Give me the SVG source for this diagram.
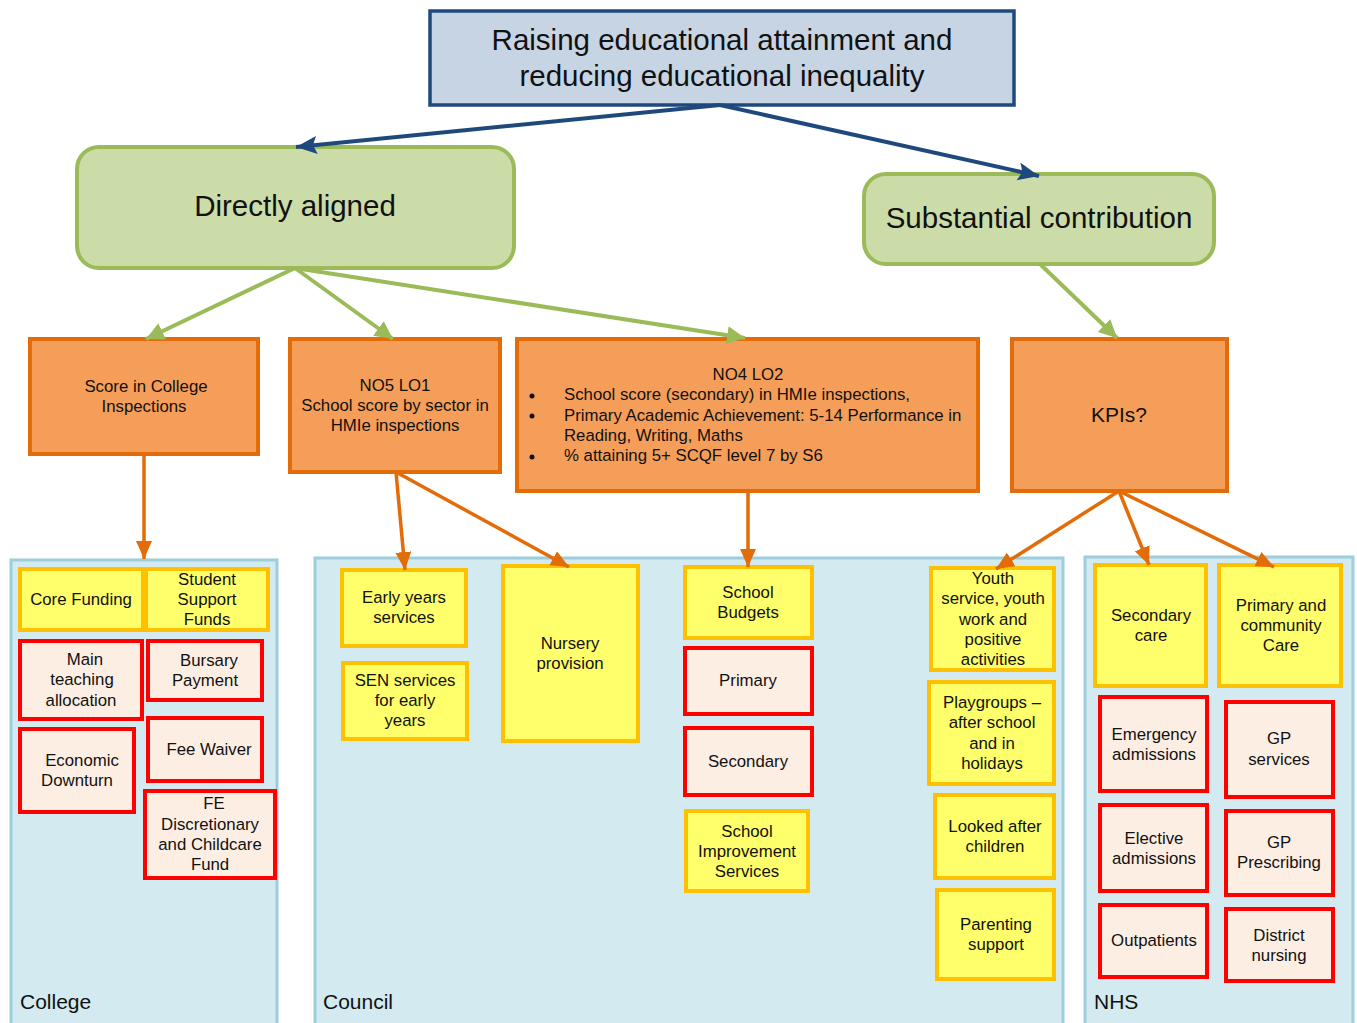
<svg xmlns="http://www.w3.org/2000/svg" width="1357" height="1023" viewBox="0 0 1357 1023">
<style>
text{font-family:"Liberation Sans",Arial,sans-serif;fill:#111;}
.t16{font-size:16.8px;text-anchor:middle;}
.t16l{font-size:16.8px;}
.t20{font-size:21px;}
.t28{font-size:29.5px;text-anchor:middle;}
.cont{fill:#D2EAF0;stroke:#9CCEDD;stroke-width:3;}
.yel{fill:#FFFF6B;stroke:#FFC000;stroke-width:4;}
.red{fill:#FDEEE4;stroke:#FF0000;stroke-width:4;}
.org{fill:#F59E5A;stroke:#E36C09;stroke-width:4;}
.grn{fill:#CCDCA9;stroke:#9BBB59;stroke-width:4;}
.blue{fill:#C6D4E4;stroke:#1F497D;stroke-width:3.5;}
.cb{stroke:#1F497D;stroke-width:4;fill:none;}
.cg{stroke:#9BBB59;stroke-width:4;fill:none;}
.co{stroke:#E36C09;stroke-width:3.5;fill:none;}
</style>
<defs>
<marker id="ab" markerUnits="userSpaceOnUse" markerWidth="24" markerHeight="20" refX="21" refY="9" orient="auto"><path d="M0,0 L21,9 L0,18 L4,9 z" fill="#1F497D"/></marker>
<marker id="ag" markerUnits="userSpaceOnUse" markerWidth="22" markerHeight="20" refX="18" refY="9" orient="auto"><path d="M0,0 L18,9 L0,18 z" fill="#9BBB59"/></marker>
<marker id="ao" markerUnits="userSpaceOnUse" markerWidth="22" markerHeight="18" refX="18" refY="8" orient="auto"><path d="M0,0 L18,8 L0,16 z" fill="#E36C09"/></marker>
</defs>
<rect width="1357" height="1023" fill="#fff"/>

<g id="container-college"><rect class="cont" x="11" y="560" width="266" height="470"/><text class="t20" x="20" y="1009">College</text></g>
<g id="container-council"><rect class="cont" x="315" y="558" width="748" height="472"/><text class="t20" x="323" y="1009">Council</text></g>
<g id="container-nhs"><rect class="cont" x="1085" y="557" width="268" height="473"/><text class="t20" x="1094" y="1009">NHS</text></g>

<g id="goal"><rect class="blue" x="430" y="11" width="584" height="94"/><text class="t28" x="722" y="50">Raising educational attainment and</text><text class="t28" x="722" y="86">reducing educational inequality</text></g>
<g id="directly-aligned"><rect class="grn" x="77" y="147" width="437" height="121" rx="22"/><text class="t28" x="295" y="216">Directly aligned</text></g>
<g id="substantial"><rect class="grn" x="864" y="174" width="350" height="90" rx="22"/><text class="t28" x="1039" y="228">Substantial contribution</text></g>

<g id="score-college"><rect class="org" x="30" y="339" width="228" height="115"/><text class="t16" x="146" y="392">Score in College</text><text class="t16" x="144" y="412">Inspections</text></g>
<g id="no5"><rect class="org" x="290" y="339" width="210" height="133"/><text class="t16" x="395" y="391">NO5 LO1</text><text class="t16" x="395" y="411">School score by sector in</text><text class="t16" x="395" y="431">HMIe inspections</text></g>
<g id="no4"><rect class="org" x="517" y="339" width="461" height="152"/><text class="t16" x="748" y="380">NO4 LO2</text>
<circle cx="532" cy="396" r="2.5" fill="#111"/><circle cx="532" cy="416" r="2.5" fill="#111"/><circle cx="532" cy="457" r="2.5" fill="#111"/>
<text class="t16l" x="564" y="400">School score (secondary) in HMIe inspections,</text><text class="t16l" x="564" y="421">Primary Academic Achievement: 5-14 Performance in</text><text class="t16l" x="564" y="441">Reading, Writing, Maths</text><text class="t16l" x="564" y="461">% attaining 5+ SCQF level 7 by S6</text></g>
<g id="kpis"><rect class="org" x="1012" y="339" width="215" height="152"/><text class="t20" x="1119" y="422" text-anchor="middle">KPIs?</text></g>

<g id="core-funding"><rect class="yel" x="20" y="569" width="123" height="61"/><text class="t16" x="81" y="605">Core Funding</text></g>
<g id="student-support"><rect class="yel" x="146" y="569" width="122" height="61"/><text class="t16" x="207" y="585">Student</text><text class="t16" x="207" y="605">Support</text><text class="t16" x="207" y="625">Funds</text></g>
<g id="main-teaching"><rect class="red" x="20" y="641" width="122" height="78"/><text class="t16" x="85" y="665">Main</text><text class="t16" x="82" y="685">teaching</text><text class="t16" x="81" y="706">allocation</text></g>
<g id="bursary"><rect class="red" x="148" y="641" width="114" height="59"/><text class="t16" x="209" y="666">Bursary</text><text class="t16" x="205" y="686">Payment</text></g>
<g id="economic"><rect class="red" x="20" y="729" width="114" height="83"/><text class="t16" x="82" y="766">Economic</text><text class="t16" x="77" y="786">Downturn</text></g>
<g id="fee-waiver"><rect class="red" x="148" y="718" width="114" height="63"/><text class="t16" x="209" y="755">Fee Waiver</text></g>
<g id="fe-disc"><rect class="red" x="145" y="791" width="130" height="87"/><text class="t16" x="214" y="809">FE</text><text class="t16" x="210" y="830">Discretionary</text><text class="t16" x="210" y="850">and Childcare</text><text class="t16" x="210" y="870">Fund</text></g>

<g id="early-years"><rect class="yel" x="342" y="570" width="124" height="76"/><text class="t16" x="404" y="603">Early years</text><text class="t16" x="404" y="623">services</text></g>
<g id="sen"><rect class="yel" x="343" y="663" width="124" height="76"/><text class="t16" x="405" y="686">SEN services</text><text class="t16" x="405" y="706">for early</text><text class="t16" x="405" y="726">years</text></g>
<g id="nursery"><rect class="yel" x="503" y="566" width="135" height="175"/><text class="t16" x="570" y="649">Nursery</text><text class="t16" x="570" y="669">provision</text></g>
<g id="school-budgets"><rect class="yel" x="685" y="567" width="127" height="71"/><text class="t16" x="748" y="598">School</text><text class="t16" x="748" y="618">Budgets</text></g>
<g id="primary"><rect class="red" x="685" y="648" width="127" height="66"/><text class="t16" x="748" y="686">Primary</text></g>
<g id="secondary"><rect class="red" x="685" y="728" width="127" height="67"/><text class="t16" x="748" y="767">Secondary</text></g>
<g id="school-improvement"><rect class="yel" x="686" y="811" width="122" height="80"/><text class="t16" x="747" y="837">School</text><text class="t16" x="747" y="857">Improvement</text><text class="t16" x="747" y="877">Services</text></g>
<g id="youth"><rect class="yel" x="931" y="568" width="123" height="102"/><text class="t16" x="993" y="584">Youth</text><text class="t16" x="993" y="604">service, youth</text><text class="t16" x="993" y="625">work and</text><text class="t16" x="993" y="645">positive</text><text class="t16" x="993" y="665">activities</text></g>
<g id="playgroups"><rect class="yel" x="929" y="682" width="125" height="102"/><text class="t16" x="992" y="708">Playgroups –</text><text class="t16" x="992" y="728">after school</text><text class="t16" x="992" y="749">and in</text><text class="t16" x="992" y="769">holidays</text></g>
<g id="looked-after"><rect class="yel" x="935" y="795" width="119" height="83"/><text class="t16" x="995" y="832">Looked after</text><text class="t16" x="995" y="852">children</text></g>
<g id="parenting"><rect class="yel" x="937" y="890" width="117" height="89"/><text class="t16" x="996" y="930">Parenting</text><text class="t16" x="996" y="950">support</text></g>

<g id="secondary-care"><rect class="yel" x="1095" y="565" width="111" height="121"/><text class="t16" x="1151" y="621">Secondary</text><text class="t16" x="1151" y="641">care</text></g>
<g id="primary-care"><rect class="yel" x="1219" y="565" width="122" height="121"/><text class="t16" x="1281" y="611">Primary and</text><text class="t16" x="1281" y="631">community</text><text class="t16" x="1281" y="651">Care</text></g>
<g id="emergency"><rect class="red" x="1100" y="697" width="107" height="94"/><text class="t16" x="1154" y="740">Emergency</text><text class="t16" x="1154" y="760">admissions</text></g>
<g id="gp-services"><rect class="red" x="1226" y="702" width="107" height="95"/><text class="t16" x="1279" y="744">GP</text><text class="t16" x="1279" y="765">services</text></g>
<g id="elective"><rect class="red" x="1100" y="805" width="107" height="86"/><text class="t16" x="1154" y="844">Elective</text><text class="t16" x="1154" y="864">admissions</text></g>
<g id="gp-prescribing"><rect class="red" x="1226" y="811" width="107" height="84"/><text class="t16" x="1279" y="848">GP</text><text class="t16" x="1279" y="868">Prescribing</text></g>
<g id="outpatients"><rect class="red" x="1100" y="905" width="107" height="72"/><text class="t16" x="1154" y="946">Outpatients</text></g>
<g id="district"><rect class="red" x="1226" y="909" width="107" height="72"/><text class="t16" x="1279" y="941">District</text><text class="t16" x="1279" y="961">nursing</text></g>

<g id="connectors">
<line class="cb" x1="720" y1="105" x2="296" y2="147" marker-end="url(#ab)"/>
<line class="cb" x1="720" y1="105" x2="1039" y2="176" marker-end="url(#ab)"/>
<line class="cg" x1="295" y1="268" x2="146" y2="339" marker-end="url(#ag)"/>
<line class="cg" x1="295" y1="268" x2="393" y2="339" marker-end="url(#ag)"/>
<line class="cg" x1="295" y1="268" x2="745" y2="338" marker-end="url(#ag)"/>
<line class="cg" x1="1040" y1="264" x2="1117" y2="338" marker-end="url(#ag)"/>
<line class="co" x1="144" y1="454" x2="144" y2="559" marker-end="url(#ao)"/>
<line class="co" x1="396" y1="472" x2="405" y2="570" marker-end="url(#ao)"/>
<line class="co" x1="396" y1="472" x2="569" y2="567" marker-end="url(#ao)"/>
<line class="co" x1="748" y1="491" x2="748" y2="567" marker-end="url(#ao)"/>
<line class="co" x1="1119" y1="491" x2="996" y2="569" marker-end="url(#ao)"/>
<line class="co" x1="1119" y1="491" x2="1149" y2="565" marker-end="url(#ao)"/>
<line class="co" x1="1119" y1="491" x2="1274" y2="567" marker-end="url(#ao)"/>
</g>
</svg>
